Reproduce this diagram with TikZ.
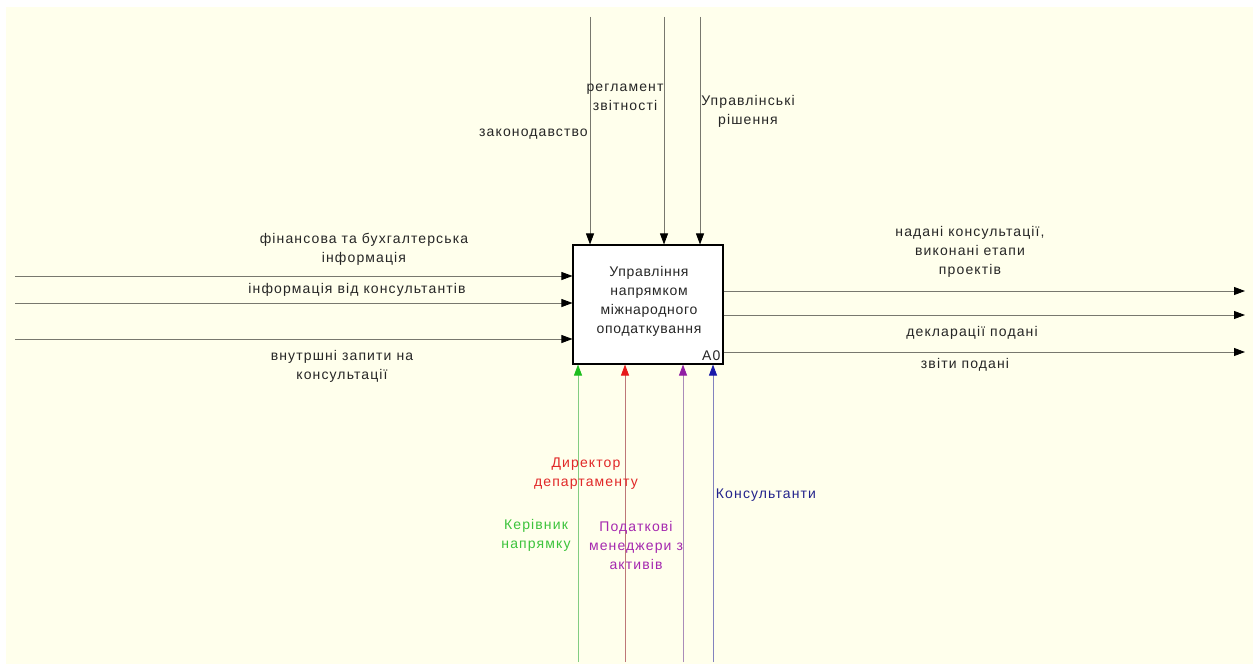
\documentclass[tikz,border=0pt]{standalone}
\usepackage{fontspec}
\setmainfont{Liberation Sans}[LetterSpace=8]
\usetikzlibrary{arrows.meta,positioning}

\definecolor{paper}{RGB}{255,255,236}
\definecolor{wire}{RGB}{120,120,110}
\definecolor{grnline}{RGB}{130,205,130}
\definecolor{grntip}{RGB}{30,190,30}
\definecolor{redline}{RGB}{190,120,120}
\definecolor{redtip}{RGB}{230,25,25}
\definecolor{purline}{RGB}{170,140,185}
\definecolor{purtip}{RGB}{145,30,165}
\definecolor{bluline}{RGB}{130,130,190}
\definecolor{blutip}{RGB}{25,25,170}
\definecolor{grntext}{RGB}{60,195,60}
\definecolor{redtext}{RGB}{225,40,40}
\definecolor{purtext}{RGB}{165,40,175}
\definecolor{blutext}{RGB}{35,35,140}

\begin{document}
\begin{tikzpicture}[
  x=1pt, y=-1pt,
  box/.style={draw, line width=1.1pt, fill=white, minimum width=150pt, minimum height=119pt, inner sep=0pt},
  lab/.style={align=center, inner sep=0pt, text=black!85, font=\fontsize{14}{19}\selectfont},
  flow/.style={draw=wire, line width=0.8pt, -{Triangle[length=11pt,width=8pt,color=black]}},
  ctrl/.style 2 args={draw=#1, line width=0.8pt, -{Triangle[length=11pt,width=8pt,color=#2]}}
  ]
\useasboundingbox (0,0) rectangle (1256,666);
\fill[white] (0,0) rectangle (1256,666);
\fill[paper] (6,7) rectangle (1253,664);

% activity box
\node[box] (main) at (648,304.5) {};
\node[lab, font=\fontsize{14}{19}\selectfont\addfontfeature{LetterSpace=5}] (mainname) at (649,301) {Управління\\напрямком\\міжнародного\\оподаткування};
\node[lab, anchor=south east] (code) at ([xshift=-3pt,yshift=4pt]main.south east) {A0};

% controls
\coordinate (law) at (590,17);
\coordinate (rules) at (664,17);
\coordinate (decis) at (700,17);
\draw[flow] (law) -- (law |- main.north);
\draw[flow] (rules) -- (rules |- main.north);
\draw[flow] (decis) -- (decis |- main.north);
\node[lab, anchor=east] (lawlab) at (588,134) {законодавство};
\node[lab] (ruleslab) at (625,97.5) {регламент\\звітності};
\node[lab] (decislab) at (748,111.5) {Управлінські\\рішення};

% inputs
\coordinate (fin) at (15,276);
\coordinate (cons) at (15,303);
\coordinate (req) at (15,339);
\draw[flow] (fin) -- (fin -| main.west);
\draw[flow] (cons) -- (cons -| main.west);
\draw[flow] (req) -- (req -| main.west);
\node[lab] (finlab) at (364,249) {фінансова та бухгалтерська\\інформація};
\node[lab] (conslab) at (357,290) {інформація від консультантів};
\node[lab] (reqlab) at (342,366.5) {внутршні запити на\\консультації};

% outputs
\coordinate (done) at (1245,291);
\coordinate (decl) at (1245,315);
\coordinate (rep) at (1245,352);
\draw[flow] (done -| main.east) -- (done);
\draw[flow] (decl -| main.east) -- (decl);
\draw[flow] (rep -| main.east) -- (rep);
\node[lab] (donelab) at (970,251.5) {надані консультації,\\виконані етапи\\проектів};
\node[lab] (decllab) at (972,333) {декларації подані};
\node[lab] (replab) at (965,365) {звіти подані};

% mechanisms
\coordinate (head) at (578,662);
\coordinate (dir) at (625,662);
\coordinate (mgr) at (683,662);
\coordinate (staff) at (713,662);
\draw[ctrl={grnline}{grntip}] (head) -- (head |- main.south);
\draw[ctrl={redline}{redtip}] (dir) -- (dir |- main.south);
\draw[ctrl={purline}{purtip}] (mgr) -- (mgr |- main.south);
\draw[ctrl={bluline}{blutip}] (staff) -- (staff |- main.south);
\node[lab, text=redtext] (dirlab) at (586,474) {Директор\\департаменту};
\node[lab, text=blutext] (stafflab) at (766,495) {Консультанти};
\node[lab, text=grntext] (headlab) at (536,535.5) {Керівник\\напрямку};
\node[lab, text=purtext] (mgrlab) at (636,545) {Податкові\\менеджери з\\активів};
\end{tikzpicture}
\end{document}
